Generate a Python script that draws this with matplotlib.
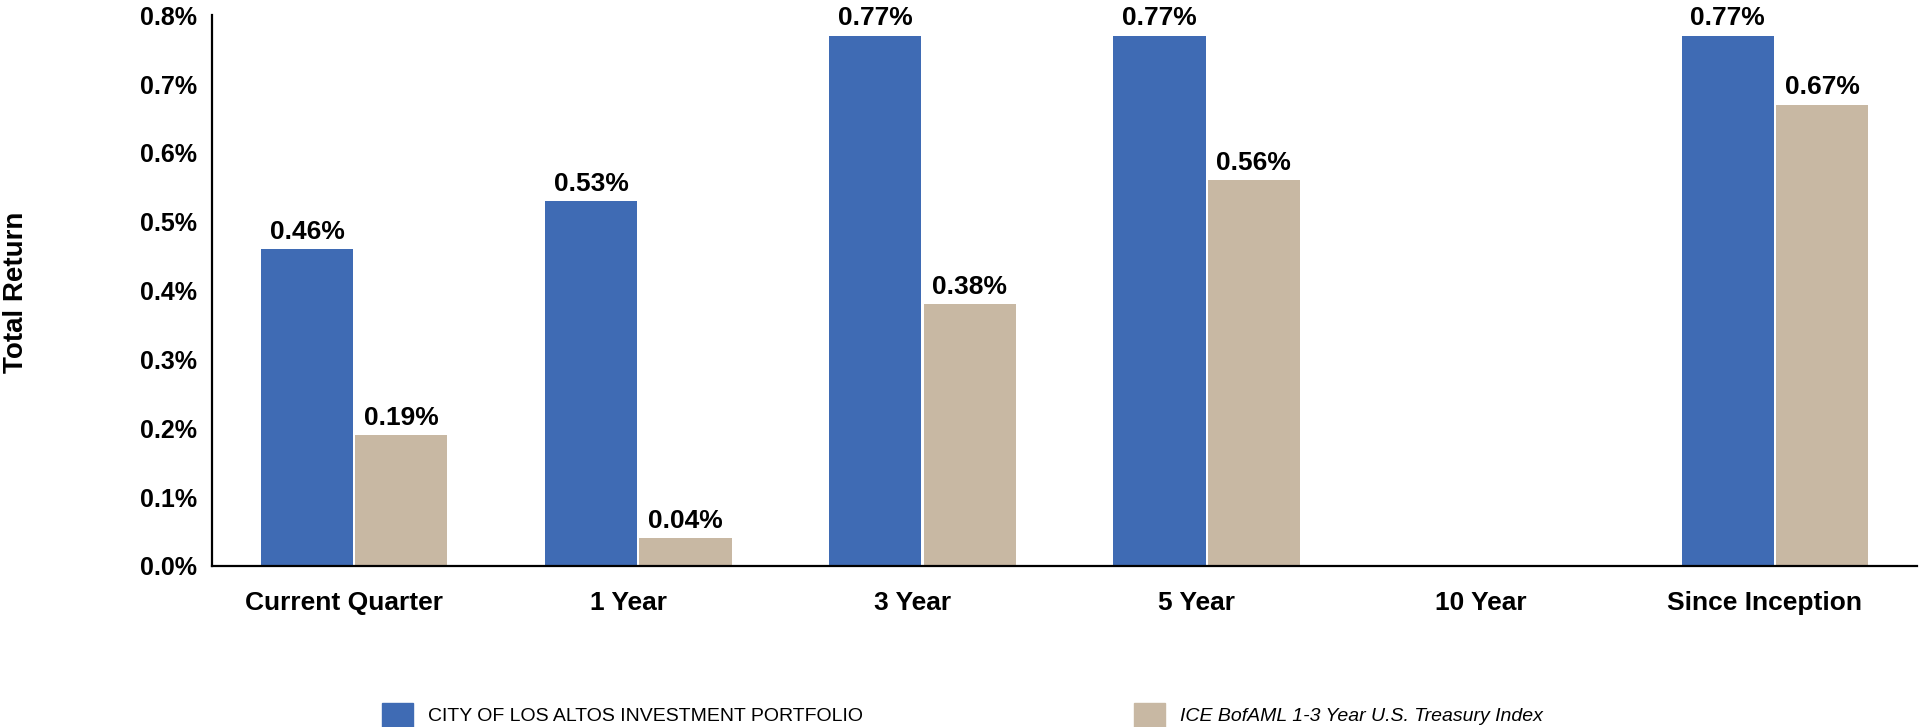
import numpy as np
import matplotlib
matplotlib.use("Agg")
import matplotlib.pyplot as plt
import matplotlib.transforms as mtransforms
from matplotlib.patches import Patch

plt.rcParams["font.family"] = ["Liberation Sans", "DejaVu Sans"]

categorias = ["Current Quarter", "1 Year", "3 Year", "5 Year", "10 Year", "Since Inception"]
portfolio = [0.46, 0.53, 0.77, 0.77, np.nan, 0.77]
indice = [0.19, 0.04, 0.38, 0.56, np.nan, 0.67]
yticks = [0.0, 0.1, 0.2, 0.3, 0.4, 0.5, 0.6, 0.7, 0.8]

azul = "#3F6BB4"
beige = "#C8B8A3"
lab_port = "CITY OF LOS ALTOS INVESTMENT PORTFOLIO"
lab_ind = "ICE BofAML 1-3 Year U.S. Treasury Index"

fig = plt.figure(figsize=(19.19, 7.27), dpi=100)
ax = fig.add_axes([0.1105, 0.2215, 0.8885, 0.7575])

x = np.arange(len(categorias))
width = 0.324
b1 = ax.bar(x - width / 2 - 0.004, portfolio, width=width, color=azul)
b2 = ax.bar(x + width / 2 + 0.004, indice, width=width, color=beige)

for bars, vals in [(b1, portfolio), (b2, indice)]:
    for rect, v in zip(bars, vals):
        if np.isnan(v):
            continue
        ax.annotate(f"{v:.2f}%", (rect.get_x() + rect.get_width() / 2, v),
                    xytext=(0, 4), textcoords="offset points",
                    ha="center", va="bottom", fontsize=19, fontweight="bold")

ax.set_xlim(-0.5, len(categorias) - 0.5)
ax.set_ylim(0, 0.8)
ax.set_yticks(yticks)
ax.set_yticklabels([f"{t:.1f}%" for t in yticks], fontsize=18, fontweight="bold")
ax.set_xticks(x)
ax.set_xticklabels(categorias, fontsize=19, fontweight="bold")
ax.tick_params(axis="both", length=0)
ax.tick_params(axis="y", pad=11)
ax.tick_params(axis="x", pad=18)

# category labels sit a little left of the bar groups in the original
shift = mtransforms.ScaledTranslation(-10 / 100, 0, fig.dpi_scale_trans)
for lbl in ax.get_xticklabels():
    lbl.set_transform(lbl.get_transform() + shift)

for s in ["top", "right"]:
    ax.spines[s].set_visible(False)
for s in ["left", "bottom"]:
    ax.spines[s].set_linewidth(1.6)
    ax.spines[s].set_color("black")

fig.text(0.0085, 0.598, "Total Return", rotation=90, ha="center", va="center",
         fontsize=20, fontweight="bold")

kw = dict(loc="lower left", frameon=False, borderpad=0, borderaxespad=0,
          handlelength=1.6, handleheight=1.55, handletextpad=0.75)
fig.legend(handles=[Patch(color=azul, label=lab_port)],
           bbox_to_anchor=(382 / 1919, 0.0), prop={"size": 14}, **kw)
fig.legend(handles=[Patch(color=beige, label=lab_ind)],
           bbox_to_anchor=(1134 / 1919, 0.0),
           prop={"size": 14, "style": "italic"}, **kw)

fig.savefig("out.png", dpi=100)
